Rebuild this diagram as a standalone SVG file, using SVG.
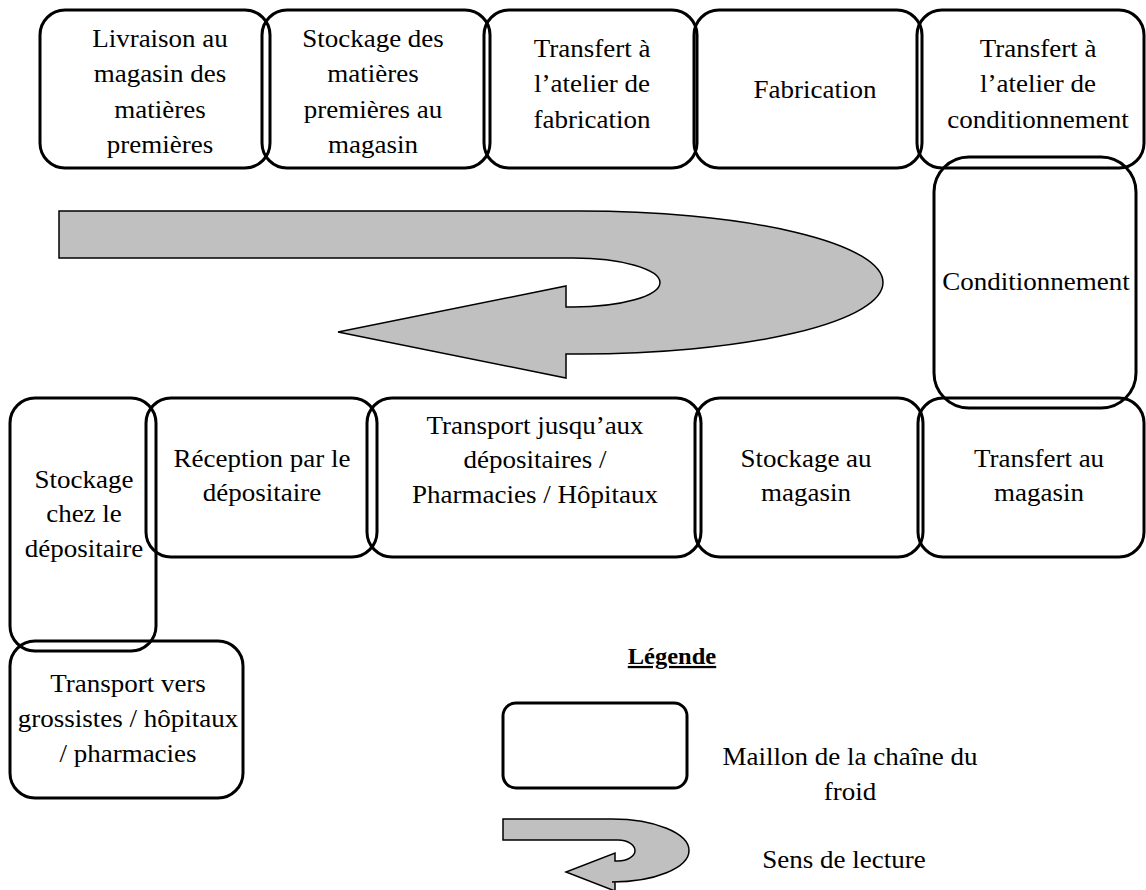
<svg xmlns="http://www.w3.org/2000/svg" width="1146" height="890" viewBox="0 0 1146 890">
<style>
.box{fill:none;stroke:#000;stroke-width:3}
.t{font-family:'Liberation Serif','Times New Roman',serif;font-size:27px;fill:#000;text-anchor:middle}
.lg{font-family:'Liberation Serif','Times New Roman',serif;font-size:24.5px;font-weight:bold;fill:#000;text-anchor:middle;text-decoration:underline}
.arrow{fill:#c0c0c0;stroke:#000;stroke-width:1.5;stroke-linejoin:miter}
</style>
<rect width="1146" height="890" fill="#fff"/>
<g id="connectors">
<path class="arrow" d="M 59 211 H 580 A 303 71.5 0 0 1 580 354 H 566 V 378 L 338 332 L 566 286 V 307 H 573 A 87 24.5 0 0 0 573 258 H 59 Z"/>
</g>
<g id="n1"><rect class="box" x="40" y="10" width="230" height="158" rx="25"/>
<text class="t" transform="translate(160,47) scale(1,0.92)"><tspan x="0" y="0">Livraison au</tspan><tspan x="0" dy="38.4">magasin des</tspan><tspan x="0" dy="38.4">matières</tspan><tspan x="0" dy="38.4">premières</tspan></text></g>
<g id="n2"><rect class="box" x="262" y="10" width="228" height="158" rx="25"/>
<text class="t" transform="translate(373,47) scale(1,0.92)"><tspan x="0" y="0">Stockage des</tspan><tspan x="0" dy="38.4">matières</tspan><tspan x="0" dy="38.4">premières au</tspan><tspan x="0" dy="38.4">magasin</tspan></text></g>
<g id="n3"><rect class="box" x="484" y="10" width="213" height="158" rx="25"/>
<text class="t" transform="translate(592,57) scale(1,0.92)"><tspan x="0" y="0">Transfert à</tspan><tspan x="0" dy="38.4">l’atelier de</tspan><tspan x="0" dy="38.4">fabrication</tspan></text></g>
<g id="n4"><rect class="box" x="694" y="10" width="228" height="158" rx="25"/>
<text class="t" transform="translate(815,98) scale(1,0.92)"><tspan x="0" y="0">Fabrication</tspan></text></g>
<g id="n5"><rect class="box" x="917" y="10" width="227" height="158" rx="25"/>
<text class="t" transform="translate(1038,57) scale(1,0.92)"><tspan x="0" y="0">Transfert à</tspan><tspan x="0" dy="38.4">l’atelier de</tspan><tspan x="0" dy="38.4">conditionnement</tspan></text></g>
<g id="n6"><rect class="box" x="934" y="157" width="202" height="251" rx="35"/>
<text class="t" transform="translate(1036,290) scale(1,0.92)"><tspan x="0" y="0">Conditionnement</tspan></text></g>
<g id="n7"><rect class="box" x="918" y="398" width="226" height="159" rx="25"/>
<text class="t" transform="translate(1039,467) scale(1,0.92)"><tspan x="0" y="0">Transfert au</tspan><tspan x="0" dy="37">magasin</tspan></text></g>
<g id="n8"><rect class="box" x="695" y="398" width="228" height="159" rx="25"/>
<text class="t" transform="translate(806,467) scale(1,0.92)"><tspan x="0" y="0">Stockage au</tspan><tspan x="0" dy="37">magasin</tspan></text></g>
<g id="n9"><rect class="box" x="367" y="398" width="334" height="159" rx="25"/>
<text class="t" transform="translate(535,434) scale(1,0.92)"><tspan x="0" y="0">Transport jusqu’aux</tspan><tspan x="0" dy="37.5">dépositaires /</tspan><tspan x="0" dy="37.5">Pharmacies / Hôpitaux</tspan></text></g>
<g id="n10"><rect class="box" x="146" y="398" width="231" height="159" rx="25"/>
<text class="t" transform="translate(262,467) scale(1,0.92)"><tspan x="0" y="0">Réception par le</tspan><tspan x="0" dy="37">dépositaire</tspan></text></g>
<g id="n11"><rect class="box" x="10" y="398" width="146" height="253" rx="25"/>
<text class="t" transform="translate(84,488) scale(1,0.92)"><tspan x="0" y="0">Stockage</tspan><tspan x="0" dy="37.5">chez le</tspan><tspan x="0" dy="37.5">dépositaire</tspan></text></g>
<g id="n12"><rect class="box" x="10" y="641" width="233" height="157" rx="25"/>
<text class="t" transform="translate(128,692) scale(1,0.92)"><tspan x="0" y="0">Transport vers</tspan><tspan x="0" dy="38">grossistes / hôpitaux</tspan><tspan x="0" dy="38">/ pharmacies</tspan></text></g>
<g id="legend">
<text class="lg" transform="translate(672,664) scale(1,0.92)">Légende</text>
<rect class="box" x="503" y="703" width="184" height="85" rx="13"/>
<text class="t" transform="translate(850,765) scale(1,0.92)"><tspan x="0" y="0">Maillon de la chaîne du</tspan><tspan x="0" dy="38">froid</tspan></text>
<path class="arrow" d="M 503 819 H 612 A 77 31.5 0 0 1 612 882 H 615 V 891 L 566 872 L 615 853 V 861 H 618 A 17 10.5 0 0 0 618 840 H 503 Z"/>
<text class="t" transform="translate(844,868) scale(1,0.92)">Sens de lecture</text>
</g>
</svg>
